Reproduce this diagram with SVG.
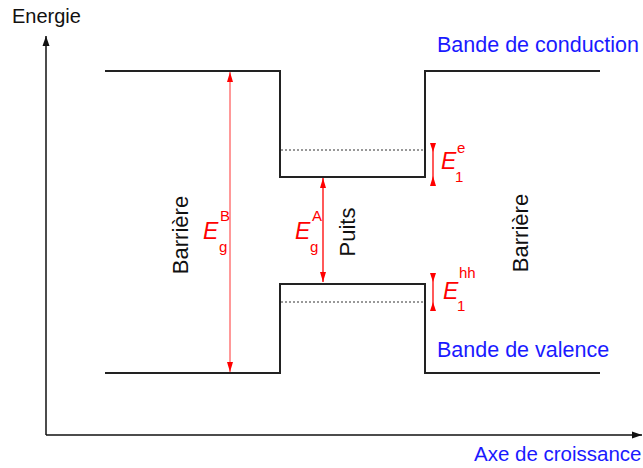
<svg xmlns="http://www.w3.org/2000/svg" width="643" height="468" viewBox="0 0 643 468">
<defs>
<marker id="ak" viewBox="0 0 10 10" refX="10" refY="5" markerWidth="10" markerHeight="10" markerUnits="userSpaceOnUse" orient="auto"><path d="M0,1.5 L10,5 L0,8.5 Z" fill="#111"/></marker>
<marker id="ar" viewBox="0 0 10 10" refX="10" refY="5" markerWidth="10" markerHeight="10" markerUnits="userSpaceOnUse" orient="auto-start-reverse"><path d="M0,2 L10,5 L0,8 Z" fill="#f00"/></marker>
</defs>
<style>
.t{font-family:"Liberation Sans",Arial,sans-serif}
.blue{fill:#1a1aff;font-size:21.5px}
.band{fill:none;stroke:#222;stroke-width:2}
.dot{stroke:#333;stroke-width:1;stroke-dasharray:2,2}
.red{fill:#f00}
.E{font-style:italic;font-size:23px}
.s{font-size:15px}
</style>
<rect width="643" height="468" fill="#fff"/>
<g id="connectors">
<line x1="46" y1="435" x2="46" y2="36" stroke="#111" stroke-width="1.5" marker-end="url(#ak)"/>
<line x1="46" y1="435" x2="642" y2="435" stroke="#111" stroke-width="1.5" marker-end="url(#ak)"/>
<line x1="230" y1="72" x2="230" y2="372" stroke="#f33" stroke-width="1" marker-start="url(#ar)" marker-end="url(#ar)"/>
<line x1="323" y1="178" x2="323" y2="282" stroke="#f00" stroke-width="1.3" marker-start="url(#ar)" marker-end="url(#ar)"/>
<line x1="433" y1="143" x2="433" y2="186" stroke="#f00" stroke-width="1.3"/>
<path d="M430,143 L436,143 L433,152 Z M430,186 L436,186 L433,176 Z" fill="#f00"/>
<line x1="433" y1="273" x2="433" y2="311" stroke="#f00" stroke-width="1.3"/>
<path d="M430,273 L436,273 L433,282 Z M430,311 L436,311 L433,302 Z" fill="#f00"/>
</g>
<g id="conduction">
<path class="band" d="M105,71 H280 V177 H425 V71 H600"/>
<line class="dot" x1="281" y1="150" x2="424" y2="150"/>
</g>
<g id="valence">
<path class="band" d="M105,373 H280 V284 H425 V373 H600"/>
<line class="dot" x1="281" y1="302" x2="424" y2="302"/>
</g>
<g id="labels" class="t">
<text x="12" y="23" font-size="20" fill="#111">Energie</text>
<text class="blue" x="437" y="52">Bande de conduction</text>
<text class="blue" x="437" y="357">Bande de valence</text>
<text class="blue" x="474" y="461" style="font-size:20.5px">Axe de croissance</text>
<text transform="translate(188,235) rotate(-90)" text-anchor="middle" font-size="22" fill="#111">Barrière</text>
<text transform="translate(355,232) rotate(-90)" text-anchor="middle" font-size="22" fill="#111">Puits</text>
<text transform="translate(528,233) rotate(-90)" text-anchor="middle" font-size="22" fill="#111">Barrière</text>
</g>
<g id="Eg_B" class="t red">
<text class="E" x="203" y="239">E</text>
<text class="s" x="219" y="252">g</text>
<text class="s" x="220" y="221">B</text>
</g>
<g id="Eg_A" class="t red">
<text class="E" x="295" y="239">E</text>
<text class="s" x="310" y="252">g</text>
<text class="s" x="312" y="221">A</text>
</g>
<g id="E1_e" class="t red">
<text class="E" x="441" y="169">E</text>
<text class="s" x="455" y="182">1</text>
<text class="s" x="457" y="153">e</text>
</g>
<g id="E1_hh" class="t red">
<text class="E" x="443" y="299">E</text>
<text class="s" x="457" y="311">1</text>
<text class="s" x="459" y="278">hh</text>
</g>
</svg>
